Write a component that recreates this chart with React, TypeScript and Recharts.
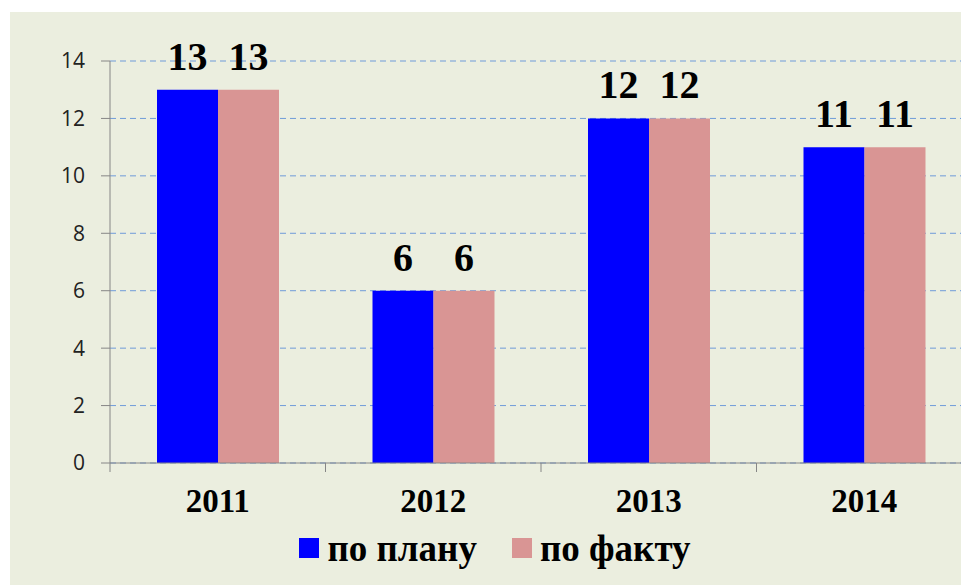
import { BarChart, Bar, XAxis, YAxis, CartesianGrid, Legend, LabelList } from 'recharts';

const years = ['2011', '2012', '2013', '2014'];
const planValues = [13, 6, 12, 11];
const factValues = [13, 6, 12, 11];
const yTicks = [0, 2, 4, 6, 8, 10, 12, 14];

const BG = '#EBEEDF';
const AXIS = '#868686';
const GRID = '#6F9BD9';
const BLUE = '#0000FF';
const PINK = '#D99594';
const SERIF = '"Liberation Serif", "Times New Roman", serif';

const data = years.map((year, i) => ({
  year,
  plan: planValues[i],
  fact: factValues[i],
}));

// category label plus the boundary tick marks Excel draws between categories
function YearTick(props: any) {
  const { x, y, payload, index, width, visibleTicksCount } = props;
  const half = payload.offset ?? width / (visibleTicksCount || 4) / 2;
  return (
    <g>
      <line x1={x + half} x2={x + half} y1={y} y2={y + 9} stroke={AXIS} />
      {index === 0 && <line x1={x - half} x2={x - half} y1={y} y2={y + 9} stroke={AXIS} />}
      <text
        x={x}
        y={y + 49}
        textAnchor="middle"
        fill="#000"
        style={{ fontFamily: SERIF, fontWeight: 'bold', fontSize: 33 }}
      >
        {payload.value}
      </text>
    </g>
  );
}

function LegendContent(props: any) {
  const items = props.payload || [];
  return (
    <div
      style={{
        display: 'flex',
        justifyContent: 'center',
        alignItems: 'center',
        height: 40,
        paddingLeft: 8,
        fontFamily: SERIF,
        fontWeight: 'bold',
        fontSize: 37,
        color: '#000',
      }}
    >
      {items.map((item: any, i: number) => (
        <span
          key={item.value}
          style={{ display: 'flex', alignItems: 'center', marginLeft: i > 0 ? 35 : 0 }}
        >
          <span style={{ width: 20, height: 20, background: item.color, marginRight: 8 }} />
          {item.value}
        </span>
      ))}
    </div>
  );
}

const labelStyle = { fontFamily: SERIF, fontWeight: 'bold', fontSize: 40 };

export default function App() {
  return (
    <div
      style={{
        position: 'absolute',
        left: 10,
        top: 12,
        width: 951,
        height: 573,
        background: BG,
        overflow: 'hidden',
      }}
    >
      <BarChart
        width={962}
        height={573}
        data={data}
        barGap={0}
        margin={{ top: 49, right: 0, left: 0, bottom: 17 }}
      >
        <CartesianGrid vertical={false} stroke={GRID} strokeDasharray="6 4" />
        <XAxis
          dataKey="year"
          height={65}
          stroke={AXIS}
          tickLine={false}
          tickSize={0}
          tickMargin={0}
          tick={<YearTick />}
          interval={0}
        />
        <YAxis
          width={100}
          domain={[0, 14]}
          ticks={yTicks}
          stroke={AXIS}
          tickSize={9}
          tickMargin={16}
          tick={{ fill: '#222', fontSize: 21, fontFamily: '"Open Sans", sans-serif' }}
        />
        <Legend verticalAlign="bottom" content={<LegendContent />} />
        <Bar dataKey="plan" name="по плану" fill={BLUE} barSize={61} isAnimationActive={false}>
          <LabelList dataKey="plan" position="top" offset={20} fill="#000" style={labelStyle} />
        </Bar>
        <Bar dataKey="fact" name="по факту" fill={PINK} barSize={61} isAnimationActive={false}>
          <LabelList dataKey="fact" position="top" offset={20} fill="#000" style={labelStyle} />
        </Bar>
      </BarChart>
    </div>
  );
}
